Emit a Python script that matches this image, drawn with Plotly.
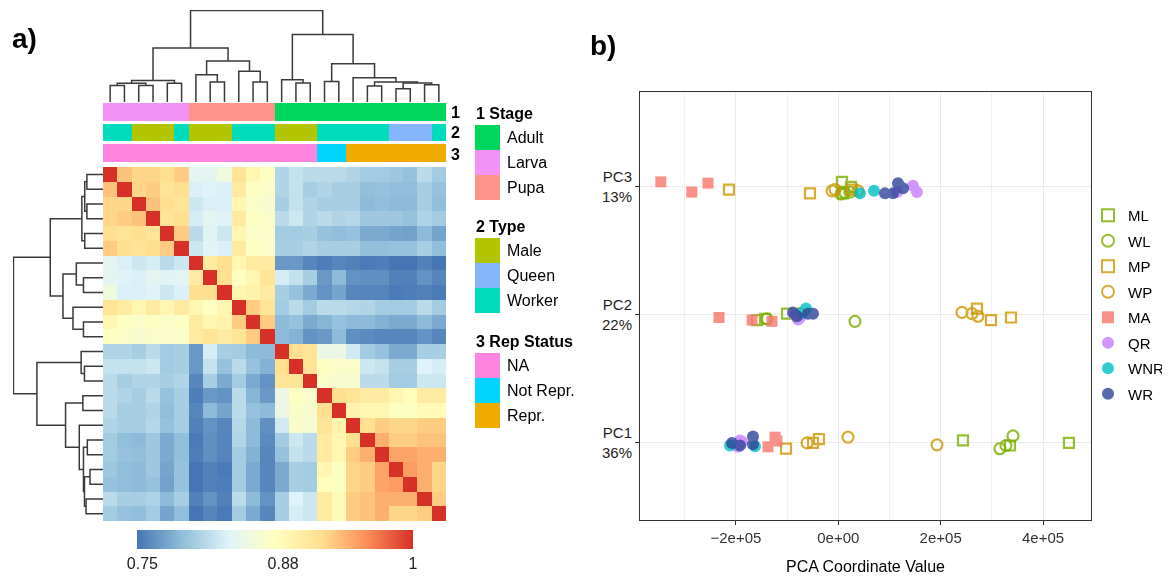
import plotly.graph_objects as go

# ------------------------------------------------------------------ data
stage = ["Larva"] * 6 + ["Pupa"] * 6 + ["Adult"] * 12
ctype = ["Worker", "Worker", "Male", "Male", "Male", "Worker",
         "Male", "Male", "Male", "Worker", "Worker", "Worker",
         "Male", "Male", "Male", "Worker", "Worker", "Worker",
         "Worker", "Worker", "Queen", "Queen", "Queen", "Worker"]
rep = ["NA"] * 15 + ["Not Repr."] * 2 + ["Repr."] * 7

# lower triangle of the (symmetric) sample correlation matrix, in plotted order
corr_lower = [
    [1.0],
    [.93, 1],
    [.92, .92, 1],
    [.92, .925, .93, 1],
    [.915, .91, .915, .91, 1],
    [.925, .915, .91, .915, .925, 1],
    [.835, .827, .82, .825, .81, .82, 1],
    [.835, .83, .827, .835, .832, .833, .90, 1],
    [.85, .828, .827, .83, .82, .828, .915, .915, 1],
    [.91, .90, .885, .90, .885, .90, .885, .87, .885, 1],
    [.885, .87, .865, .87, .865, .87, .90, .885, .89, .925, 1],
    [.87, .865, .86, .865, .865, .865, .90, .91, .90, .91, .925, 1],
    [.805, .805, .80, .81, .797, .80, .765, .825, .80, .797, .785, .785, 1],
    [.815, .815, .815, .82, .797, .80, .765, .815, .79, .81, .79, .78, .915, 1],
    [.81, .80, .805, .805, .80, .805, .755, .80, .775, .797, .775, .762, .91, .91, 1],
    [.81, .805, .80, .81, .79, .80, .75, .765, .762, .81, .782, .765, .845, .87, .865, 1],
    [.81, .80, .80, .805, .787, .80, .755, .785, .772, .81, .79, .785, .845, .865, .86, .915, 1],
    [.805, .80, .80, .807, .79, .80, .752, .762, .755, .807, .785, .76, .822, .865, .86, .91, .89, 1],
    [.797, .788, .785, .795, .775, .788, .748, .76, .754, .805, .785, .757, .797, .82, .81, .90, .885, .915, 1],
    [.797, .79, .788, .795, .775, .788, .75, .76, .754, .797, .78, .755, .79, .815, .81, .90, .885, .925, .94, 1],
    [.795, .787, .785, .795, .772, .79, .745, .752, .748, .797, .775, .755, .775, .80, .797, .885, .87, .92, .925, .945, 1],
    [.79, .787, .785, .79, .77, .79, .745, .752, .75, .797, .775, .755, .775, .80, .797, .875, .87, .92, .925, .945, .95, 1],
    [.81, .80, .80, .803, .785, .80, .752, .762, .752, .81, .785, .762, .80, .83, .82, .90, .88, .925, .93, .94, .94, .94, 1],
    [.797, .79, .787, .797, .772, .787, .745, .754, .748, .797, .775, .755, .80, .825, .82, .90, .88, .925, .93, .94, .92, .92, .925, 1],
]

# hierarchical clustering merges: (left, right, height); ids >= 24 are earlier merges
tree_merges = [
    (0, 1, 0.18), (2, 3, 0.18), (24, 25, 0.204), (4, 5, 0.204), (26, 27, 0.236),
    (7, 8, 0.218), (6, 29, 0.298), (10, 11, 0.218), (9, 31, 0.335), (30, 32, 0.447),
    (28, 33, 0.589), (13, 14, 0.207), (12, 35, 0.244), (15, 16, 0.225), (18, 19, 0.175),
    (20, 21, 0.145), (22, 23, 0.189), (39, 40, 0.207), (38, 41, 0.218), (17, 42, 0.265),
    (37, 43, 0.418), (36, 44, 0.738), (34, 45, 1.0),
]

colorbar_ticks = [0.75, 0.88, 1]

# annotation legend
anno_groups = ["1 Stage", "2 Type", "3 Rep Status"]
anno_levels = [["Adult", "Larva", "Pupa"], ["Male", "Queen", "Worker"], ["NA", "Not Repr.", "Repr."]]
anno_colors = {"Adult": "#00D65C", "Larva": "#F291F6", "Pupa": "#FE9489",
               "Male": "#B2C500", "Queen": "#85B5FC", "Worker": "#00DCBC",
               "NA": "#FE84E0", "Not Repr.": "#01D4FE", "Repr.": "#F0AB00"}

# PCA panel: samples per group listed PC1 values, then PC2, then PC3; jitter in category units
pc_ticks = ["PC1<br>36%", "PC2<br>22%", "PC3<br>13%"]
groups = ["ML", "WL", "MP", "WP", "MA", "QR", "WNR", "WR"]
ML_x = [243500, 335300, 450500, -158800, -143200, -100200, 7200, 24800, 9200]
ML_j = [0.02, -0.02, 0.0, -0.04, -0.03, 0.01, 0.04, 0.0, -0.05]
WL_x = [315800, 327500, 341200, -139300, -74800, 32600, 5300, 13000, 22800]
WL_j = [-0.045, -0.02, 0.055, -0.03, 0.01, -0.05, -0.055, -0.045, -0.04]
MP_x = [-102100, -49400, -37700, 270900, 298200, 337300, -213500, -55300, 26800]
MP_j = [-0.045, 0.0, 0.03, 0.05, -0.04, -0.02, -0.02, -0.05, -0.02]
WP_x = [-61100, 19000, 192800, 241600, 261100, 272800, -12300, -6400, 38500]
WP_j = [0.0, 0.045, -0.015, 0.02, 0.01, -0.01, -0.03, -0.02, -0.03]
MA_x = [-123600, -119700, -137300, -233000, -168500, -129500, -346700, -286000, -254500]
MA_j = [0.045, 0.015, -0.03, -0.02, -0.04, -0.05, 0.04, -0.04, 0.03]
QR_x = [-192000, -188000, -196000, -78700, -84600, -74800, 114600, 145900, 153700]
QR_j = [0.02, 0.01, -0.03, -0.035, 0.0, -0.02, -0.04, 0.01, -0.04]
WNR_x = [-211500, -162700, -63100, -69000, 42400, 69700]
WNR_j = [-0.02, -0.025, 0.05, 0.02, -0.05, -0.03]
WR_x = [-207600, -166600, -166600, -192000, -88500, -59200, -49400, -80700, 91200, 106800, 116600, 126400]
WR_j = [0.0, 0.05, -0.01, -0.02, 0.02, 0.01, 0.01, -0.01, -0.05, -0.05, 0.03, -0.01]

group_data = {"ML": (ML_x, ML_j), "WL": (WL_x, WL_j), "MP": (MP_x, MP_j), "WP": (WP_x, WP_j),
              "MA": (MA_x, MA_j), "QR": (QR_x, QR_j), "WNR": (WNR_x, WNR_j), "WR": (WR_x, WR_j)}
group_style = {
    "ML": ("square-open", "#7CAE00", 10),
    "WL": ("circle-open", "#7CAE00", 11),
    "MP": ("square-open", "#CD9600", 10),
    "WP": ("circle-open", "#CD9600", 11),
    "MA": ("square", "#F8766D", 11),
    "QR": ("circle", "#C77CFF", 12),
    "WNR": ("circle", "#00BFC4", 12),
    "WR": ("circle", "#2F4597", 12),
}

# ------------------------------------------------------------------ helpers
# the page body adds an 8px margin, so the figure is drawn 8px smaller and offset
OFF = 8
W, H = 1170 - OFF, 579 - OFF
FONT = "Liberation Sans, Arial, Helvetica, sans-serif"


def px(x):
    return (x - OFF) / W


def py(y):
    return 1 - (y - OFF) / H


n = len(corr_lower)
corr = [[0.0] * n for _ in range(n)]
for i, row in enumerate(corr_lower):
    for j, v in enumerate(row):
        corr[i][j] = v
        corr[j][i] = v


def dendro_segments():
    pos = {i: float(i) for i in range(n)}
    hgt = {i: 0.0 for i in range(n)}
    a, b = [], []
    for k, (l, r, h) in enumerate(tree_merges):
        nid = n + k
        a += [pos[l], pos[l], pos[r], pos[r], None]
        b += [hgt[l], h, h, hgt[r], None]
        pos[nid] = (pos[l] + pos[r]) / 2
        hgt[nid] = h
    return a, b


dpos, dh = dendro_segments()

fig = go.Figure()

# main heatmap
cscale = [[0, "#4575B4"], [1 / 6, "#91BFDB"], [2 / 6, "#E0F3F8"], [3 / 6, "#FFFFBF"],
          [4 / 6, "#FEE090"], [5 / 6, "#FC8D59"], [1, "#D73027"]]
fig.add_trace(go.Heatmap(
    z=corr, x=list(range(n)), y=list(range(n)), colorscale=cscale, zmin=0.745, zmax=1.0,
    xaxis="x", yaxis="y", hoverinfo="skip",
    colorbar=dict(orientation="h", x=px(275), xanchor="center", y=py(566), yanchor="bottom",
                  len=276, lenmode="pixels", thickness=19, thicknessmode="pixels",
                  xpad=0, ypad=0, outlinewidth=0, ticks="", tickvals=colorbar_ticks,
                  ticktext=[str(t) for t in colorbar_ticks],
                  tickfont=dict(size=16, color="#222", family=FONT)),
))

# column dendrogram
fig.add_trace(go.Scatter(x=dpos, y=dh, mode="lines", line=dict(color="#3a3a3a", width=1.5),
                         xaxis="x2", yaxis="y2", hoverinfo="skip", showlegend=False))
# row dendrogram
fig.add_trace(go.Scatter(x=dh, y=dpos, mode="lines", line=dict(color="#3a3a3a", width=1.5),
                         xaxis="x3", yaxis="y3", hoverinfo="skip", showlegend=False))

# annotation bars
levels_all = [lv for grp in anno_levels for lv in grp]
code = {lv: i for i, lv in enumerate(levels_all)}
nl = len(levels_all)
dscale = []
for i, lv in enumerate(levels_all):
    dscale.append([i / nl, anno_colors[lv]])
    dscale.append([(i + 1) / nl, anno_colors[lv]])
anno_z = [[code[v] for v in stage], [code[v] for v in ctype], [code[v] for v in rep]]
fig.add_trace(go.Heatmap(z=anno_z, x=list(range(n)), y=[0, 1, 2], colorscale=dscale,
                         zmin=-0.5, zmax=nl - 0.5, showscale=False, ygap=3,
                         xaxis="x4", yaxis="y4", hoverinfo="skip"))

# PCA scatter
for g in groups:
    xs, js = group_data[g]
    k = len(xs) // 3
    ys = [pc + j for pc, j in zip([1] * k + [2] * k + [3] * k, js)]
    sym, col, size = group_style[g]
    open_ = sym.endswith("open")
    fig.add_trace(go.Scatter(
        x=xs, y=ys, mode="markers", name=g, xaxis="x5", yaxis="y5", opacity=0.8,
        marker=dict(symbol=sym, size=size, color=col,
                    line=dict(width=2.2 if open_ else 0, color=col)),
        legendgroup=g, hoverinfo="skip"))

hidden = dict(visible=False, fixedrange=True)
layout = dict(
    width=W, height=H, margin=dict(l=0, r=0, t=0, b=0, autoexpand=False),
    paper_bgcolor="white", plot_bgcolor="white",
    font=dict(family=FONT, color="#000"),
    xaxis=dict(domain=[px(103), px(446)], range=[-0.5, n - 0.5], anchor="y", **hidden),
    yaxis=dict(domain=[py(521), py(167)], range=[n - 0.5, -0.5], anchor="x", **hidden),
    xaxis2=dict(domain=[px(103), px(446)], range=[-0.5, n - 0.5], anchor="y2", **hidden),
    yaxis2=dict(domain=[py(102), py(10)], range=[0, 1.005], anchor="x2", **hidden),
    xaxis3=dict(domain=[px(13), px(103)], range=[1.005, 0], anchor="y3", **hidden),
    yaxis3=dict(domain=[py(521), py(167)], range=[n - 0.5, -0.5], anchor="x3", **hidden),
    xaxis4=dict(domain=[px(103), px(446)], range=[-0.5, n - 0.5], anchor="y4", **hidden),
    yaxis4=dict(domain=[py(164), py(102)], range=[2.5, -0.5], anchor="x4", **hidden),
    xaxis5=dict(domain=[px(640), px(1091)], range=[-387300, 493600], anchor="y5",
                tickvals=[-2e5, 0, 2e5, 4e5], ticktext=["\u22122e+05", "0e+00", "2e+05", "4e+05"],
                tickfont=dict(size=15, color="#333"), ticks="outside", ticklen=4, tickcolor="#333",
                showgrid=True, gridcolor="#EBEBEB", gridwidth=1.2, zeroline=False,
                minor=dict(tickmode="array", tickvals=[-3e5, -1e5, 1e5, 3e5], showgrid=True,
                           gridcolor="#F0F0F0", gridwidth=0.8, ticks=""),
                showline=True, mirror=True, linecolor="#333", linewidth=1,
                title=dict(text="PCA Coordinate Value", font=dict(size=16, color="#000"), standoff=15),
                fixedrange=True),
    yaxis5=dict(domain=[py(520), py(92)], range=[0.398, 3.742], anchor="x5",
                tickvals=[1, 2, 3], ticktext=pc_ticks, tickfont=dict(size=15, color="#222"),
                ticks="outside", ticklen=4, tickcolor="#333",
                showgrid=True, gridcolor="#EBEBEB", gridwidth=1.2, zeroline=False,
                showline=True, mirror=True, linecolor="#333", linewidth=1, fixedrange=True),
    legend=dict(x=px(1088), y=py(199), xanchor="left", yanchor="top", font=dict(size=15),
                tracegroupgap=3, itemsizing="constant", itemwidth=30, bgcolor="rgba(0,0,0,0)"),
    showlegend=True,
)
fig.update_layout(**layout)

# panel letters
fig.add_annotation(x=px(10), y=py(38), xref="paper", yref="paper", text="<b>a)</b>",
                   showarrow=False, xanchor="left", yanchor="middle", font=dict(size=28))
fig.add_annotation(x=px(588), y=py(45), xref="paper", yref="paper", text="<b>b)</b>",
                   showarrow=False, xanchor="left", yanchor="middle", font=dict(size=28))

# annotation row labels
for lbl, yy in zip(["1", "2", "3"], [112, 133, 154]):
    fig.add_annotation(x=px(449), y=py(yy), xref="paper", yref="paper", text="<b>%s</b>" % lbl,
                       showarrow=False, xanchor="left", yanchor="middle", font=dict(size=16))

# annotation legend
title_y = [113, 226, 341]
for gname, levels, ty in zip(anno_groups, anno_levels, title_y):
    fig.add_annotation(x=px(474), y=py(ty), xref="paper", yref="paper", text="<b>%s</b>" % gname,
                       showarrow=False, xanchor="left", yanchor="middle", font=dict(size=16))
    for k, lv in enumerate(levels):
        y0 = ty + 12 + 25 * k
        fig.add_shape(type="rect", xref="paper", yref="paper", x0=px(475), x1=px(500),
                      y0=py(y0 + 25), y1=py(y0), fillcolor=anno_colors[lv], line=dict(width=0))
        fig.add_annotation(x=px(505), y=py(y0 + 12.5), xref="paper", yref="paper", text=lv,
                           showarrow=False, xanchor="left", yanchor="middle", font=dict(size=16))

fig.write_html("out.html")
